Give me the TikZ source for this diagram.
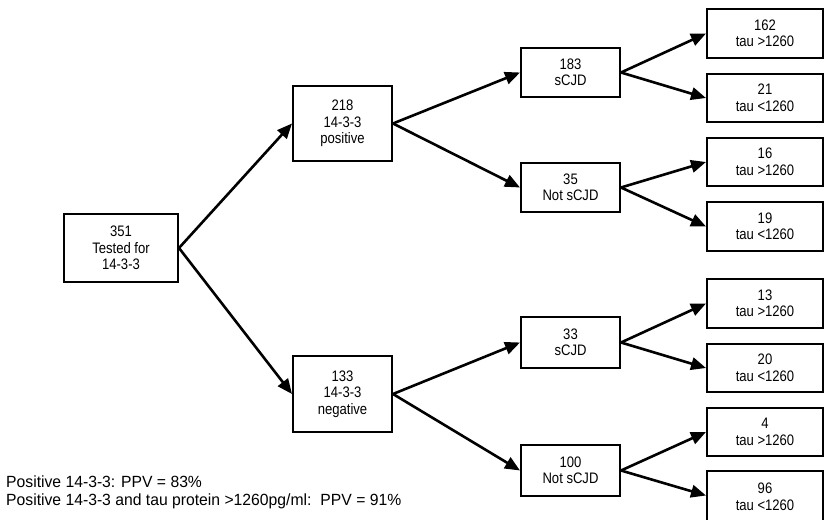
\documentclass[tikz,border=0pt]{standalone}
\usepackage{fontspec}
\setmainfont{Liberation Sans}
\newfontfamily\boxfont[FakeStretch=0.86]{Liberation Sans}
\newfontfamily\footfont[FakeStretch=0.97]{Liberation Sans}
\usetikzlibrary{arrows.meta}
\begin{document}
\begin{tikzpicture}[x=1pt,y=-1pt,
  box/.style={draw, line width=1.8pt, inner sep=0pt, align=center,
    font=\boxfont\fontsize{15.2}{16.5}\selectfont},
  midbox/.style={box, minimum width=99.2pt, minimum height=49.5pt},
  leafbox/.style={box, minimum width=116.2pt, minimum height=48.5pt},
  arr/.style={line width=2.6pt, -{Triangle[length=15pt,width=12.5pt]}},
  foot/.style={anchor=base west, inner sep=0pt, font=\footfont\fontsize{16.2}{18}\selectfont}]
\useasboundingbox (0,0) rectangle (826,519);
\clip (0,0) rectangle (826,519);
% root
\node[box, minimum width=114.2pt, minimum height=68.2pt] (n351) at (121,248) {351\\Tested for\\14-3-3};
% second level
\node[box, minimum width=99.2pt, minimum height=75.2pt] (n218) at (342.5,123.5) {218\\14-3-3\\positive};
\node[box, minimum width=99.2pt, minimum height=76.2pt] (n133) at (342.5,394) {133\\14-3-3\\negative};
% third level
\node[midbox] (n183) at (570.5,72.5) {183\\sCJD};
\node[midbox] (n35) at (570.5,187.5) {35\\Not sCJD};
\node[midbox, minimum height=51.2pt] (n33) at (570.5,342.5) {33\\sCJD};
\node[midbox, minimum height=51.2pt] (n100) at (570.5,470.5) {100\\Not sCJD};
% leaves
\node[leafbox] (l162) at (765,33.5) {162\\tau >1260};
\node[leafbox] (l21) at (765,98) {21\\tau <1260};
\node[leafbox] (l16) at (765,162) {16\\tau >1260};
\node[leafbox] (l19) at (765,226.5) {19\\tau <1260};
\node[leafbox] (l13) at (765,303.5) {13\\tau >1260};
\node[leafbox] (l20) at (765,368) {20\\tau <1260};
\node[leafbox] (l4) at (765,432) {4\\tau >1260};
\node[leafbox, minimum height=52.5pt] (l96) at (765,497) {96\\tau <1260};
% connectors
\draw[arr] (n351.east) -- (n218.west);
\draw[arr] (n351.east) -- (n133.west);
\draw[arr] (n218.east) -- (n183.west);
\draw[arr] (n218.east) -- (n35.west);
\draw[arr] (n133.east) -- (n33.west);
\draw[arr] (n133.east) -- (n100.west);
\draw[arr] (n183.east) -- (l162.west);
\draw[arr] (n183.east) -- (l21.west);
\draw[arr] (n35.east) -- (l16.west);
\draw[arr] (n35.east) -- (l19.west);
\draw[arr] (n33.east) -- (l13.west);
\draw[arr] (n33.east) -- (l20.west);
\draw[arr] (n100.east) -- (l4.west);
\draw[arr] (n100.east) -- ([yshift=1.5pt]l96.west);
% footnotes
\node[foot] (f1) at (6,487.7) {Positive 14-3-3: PPV = 83\%};
\node[foot] (f2) at (6,505.7) {Positive 14-3-3 and tau protein >1260pg/ml:\hspace{0.556em}PPV = 91\%};
\end{tikzpicture}
\end{document}
